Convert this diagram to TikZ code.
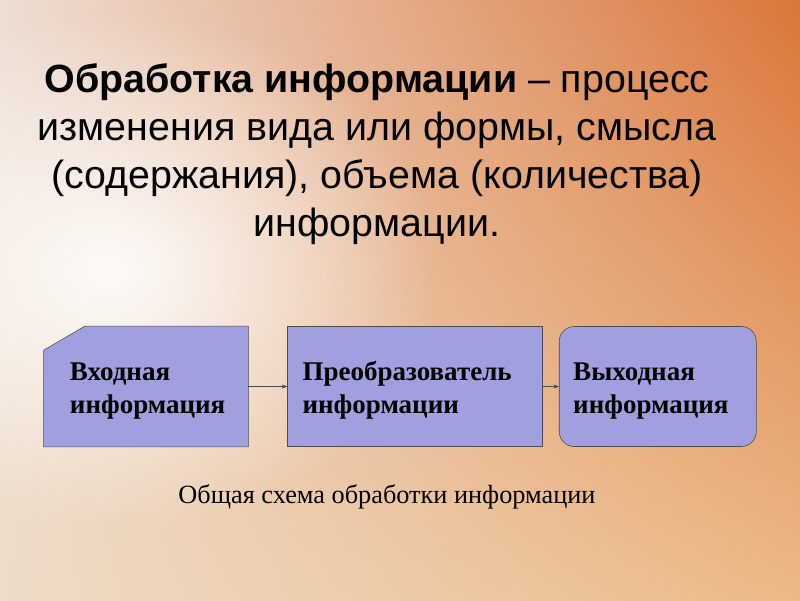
\documentclass[tikz,border=0pt]{standalone}
\usepackage{fontspec}
\setmainfont{Liberation Serif}
\newfontfamily\headfont{Liberation Sans}
\usetikzlibrary{positioning,arrows.meta,shadings,backgrounds,fadings}
\definecolor{boxfill}{RGB}{160,160,222}
\definecolor{bgUL}{RGB}{238,222,212}
\definecolor{bgUR}{RGB}{218,118,58}
\definecolor{bgLL}{RGB}{238,220,200}
\definecolor{bgLR}{RGB}{236,185,135}
\tikzfading[name=glow, inner color=transparent!10, outer color=transparent!100]

\begin{document}
\begin{tikzpicture}[x=0.025cm, y=-0.025cm,
    box/.style={draw=black!70, fill=boxfill, minimum height=3cm, align=left,
        text height=19pt, font=\fontsize{19.2}{23}\selectfont\bfseries},
    link/.style={-{Stealth[length=4pt,width=3pt]}, black!70, thin}]
    \useasboundingbox (0,0) rectangle (800,600);

    \node[font=\headfont\fontsize{28}{34}\selectfont, align=center] (title) at (377,154)
        {\textbf{Обработка информации} – процесс\\изменения вида или формы, смысла\\(содержания), объема (количества)\\информации.};

    \node[box, draw=none, fill=none, inner xsep=0.65cm, text width=3.8cm] (in) at (146,386.5) {Входная\\информация};
    \node[box, inner xsep=0.375cm, text width=5.625cm, right=0.975cm of in] (conv) {Преобразователь\\информации};
    \node[box, rounded corners=0.375cm, inner xsep=0.35cm, text width=4.225cm, right=0.4cm of conv] (out) {Выходная\\информация};

    \draw[link] (in) -- (conv);
    \draw[link] (conv) -- (out);

    \node[font=\fontsize{18.7}{22}\selectfont] (caption) at (387,497) {Общая схема обработки информации};

    % background and the cut-corner box
    \begin{scope}[on background layer]
        \shade[upper left=bgUL, upper right=bgUR, lower left=bgLL, lower right=bgLR]
            (0,0) rectangle (800,600);
        \fill[white, path fading=glow] (110,270) ellipse (330 and 260);
        \filldraw[draw=black!70, fill=boxfill] (in.south west) -- ([yshift=-0.6cm]in.north west)
            -- ([xshift=1.025cm]in.north west) -- (in.north east) -- (in.south east) -- cycle;
    \end{scope}
\end{tikzpicture}
\end{document}
